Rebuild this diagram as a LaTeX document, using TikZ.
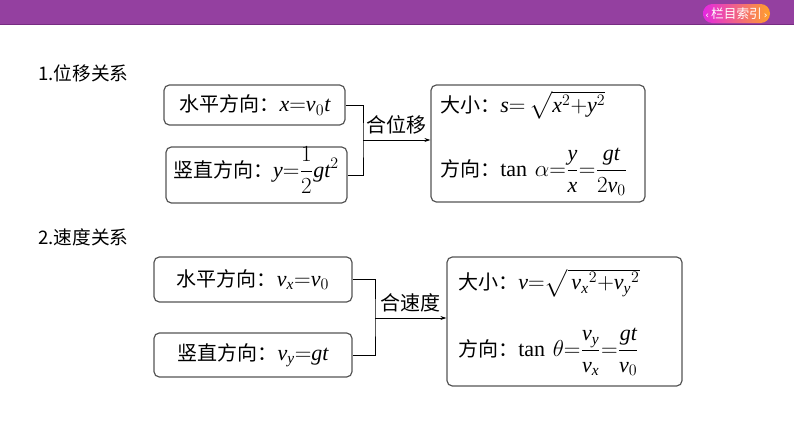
\documentclass[tikz,border=0pt]{standalone}
\usepackage{fontspec}
\usepackage{amsmath}
\setmainfont{Liberation Serif}
\newfontfamily\cjk{Noto Sans CJK SC}
\newfontfamily\dejavu{DejaVu Sans}
\usepackage{xcolor}
\usepackage{tikz}
\usetikzlibrary{positioning,arrows.meta}

\definecolor{barpurple}{RGB}{148,64,160}
\definecolor{bardark}{RGB}{118,44,130}
\definecolor{pillpink}{RGB}{228,40,225}
\definecolor{pillorange}{RGB}{255,160,40}
\definecolor{boxgray}{RGB}{85,85,85}

% italic letters in the Times-like text face, formulas a bit larger
\newcommand{\mv}[1]{\mathit{#1}}
\newcommand{\formula}[1]{{\fontsize{16.5}{20}\selectfont$#1$}}

\tikzset{
  box/.style={draw=boxgray, line width=0.9pt, rounded corners=4pt, fill=white, inner sep=0pt},
  txt/.style={font=\fontsize{15}{18}\selectfont\cjk, inner sep=0pt},
  heading/.style={font=\fontsize{14}{17}\selectfont\cjk, anchor=west, inner sep=0pt},
  link/.style={line width=0.6pt},
  arrow/.style={line width=0.6pt, -{Stealth[length=4.5pt,width=3pt]}}
}

\begin{document}
\begin{tikzpicture}[x=0.75pt, y=-0.75pt]
    \useasboundingbox (0,0) rectangle (794,446);

    % Top bar
    \fill[barpurple] (0,0) rectangle (794,25);
    \draw[bardark, line width=1.2pt] (0,24.5) -- (794,24.5);
    \node[rounded corners=7pt, left color=pillpink, right color=pillorange,
          minimum width=50.25pt, minimum height=14.25pt, inner sep=0pt,
          text=white, font=\fontsize{9.5}{11}\selectfont\cjk] (index) at (736.5,13.5)
          {{\dejavu\fontsize{7}{8}\selectfont‹}\,栏目索引\,{\dejavu\fontsize{7}{8}\selectfont›}};

    % 1. Displacement
    \node[heading] (head1) at (38,73) {1.位移关系};

    \node[box, minimum width=135.75pt, minimum height=30pt] (dx) at (254.5,105) {};
    \node[txt] (dxtext) at (255,105) {水平方向：\formula{\mv{x}{=}\mv{v}_0\mv{t}}};
    \node[box, minimum width=135.75pt, minimum height=42pt] (dy) at (256.5,175) {};
    \node[txt] (dytext) at (256,170) {竖直方向：\formula{\mv{y}{=}\dfrac{1}{2}\mv{gt}^2}};
    \node[box, minimum width=160.5pt, minimum height=87.75pt] (ds) at (538,143.5) {};
    \node[txt, anchor=west] (dsize) at (440,105) {大小：\formula{\mv{s}{=}\,\sqrt{\mv{x}^2{+}\mv{y}^2}}};
    \node[txt, anchor=west] (ddir) at (440,172) {方向：\formula{\tan\,\alpha{=}\dfrac{\mv{y}}{\mv{x}}{=}\dfrac{\mv{gt}}{2\mv{v}_0}}};

    \coordinate (j1) at (363,140);
    \draw[link] (dx.east) -| (j1) |- (dy.east);
    \draw[arrow] (j1) -- node[txt, above=4pt] (dlabel) {合位移} (j1 -| ds.west);

    % 2. Velocity
    \node[heading] (head2) at (38,237) {2.速度关系};

    \node[box, minimum width=148.5pt, minimum height=33.75pt] (vx) at (253,279.5) {};
    \node[txt] (vxtext) at (253,279.5) {水平方向：\formula{\mv{v}_{\mv{x}}{=}\mv{v}_0}};
    \node[box, minimum width=148.5pt, minimum height=33pt] (vy) at (253,355) {};
    \node[txt] (vytext) at (253,355) {竖直方向：\formula{\mv{v}_{\mv{y}}{=}\mv{gt}}};
    \node[box, minimum width=176.25pt, minimum height=96.75pt] (vs) at (564.5,321.5) {};
    \node[txt, anchor=west] (vsize) at (458,283) {大小：\formula{\mv{v}{=}\sqrt{\,{\mv{v}_{\mv{x}}}^2{+}{\mv{v}_{\mv{y}}}^2}}};
    \node[txt, anchor=west] (vdir) at (458,352) {方向：\formula{\tan\,\theta{=}\dfrac{\mv{v}_{\mv{y}}}{\mv{v}_{\mv{x}}}{=}\dfrac{\mv{gt}}{\mv{v}_0}}};

    \coordinate (j2) at (375,318);
    \draw[link] (vx.east) -| (j2) |- (vy.east);
    \draw[arrow] (j2) -- node[txt, above=4pt] (vlabel) {合速度} (j2 -| vs.west);
\end{tikzpicture}
\end{document}
